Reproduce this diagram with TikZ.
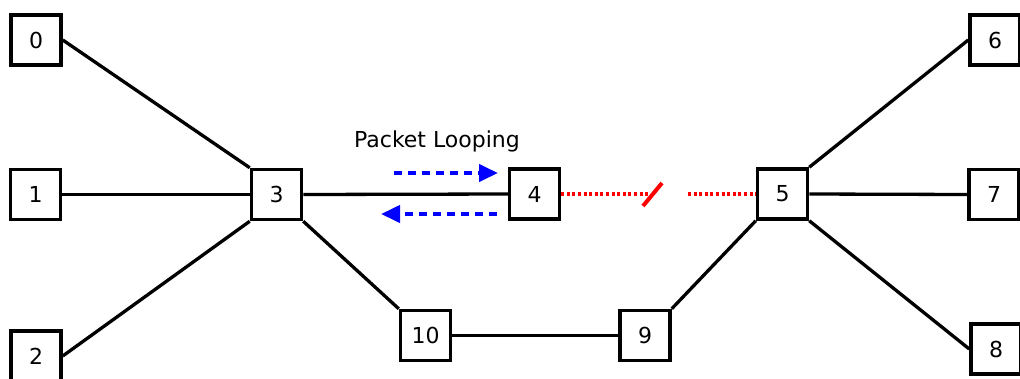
\documentclass[tikz,border=0pt]{standalone}
\usepackage{fontspec}
\setmainfont{DejaVu Sans}
\usetikzlibrary{arrows.meta}
\begin{document}
\begin{tikzpicture}[x=1pt,y=-1pt,
  router/.style={draw,line width=3.5pt,minimum size=50pt,inner sep=0pt,font=\fontsize{22}{26}\selectfont},
  link/.style={line width=3.3pt},
  flow/.style={blue,line width=4pt,dash pattern=on 8pt off 6pt,-{Triangle[length=19pt,width=17pt]}},
  broken/.style={red,line width=4pt,dash pattern=on 3pt off 2.6pt}]
\useasboundingbox (0,0) rectangle (1020,378);
\node[router] (n0) at (36,40) {0};
\node[router] (n1) at (35.5,194.5) {1};
\node[router] (n2) at (36,356) {2};
\node[router] (n3) at (276.5,194.5) {3};
\node[router] (n4) at (534.5,194) {4};
\node[router] (n5) at (782.5,194) {5};
\node[router] (n6) at (995,40) {6};
\node[router] (n7) at (994,194.5) {7};
\node[router] (n8) at (996,349) {8};
\node[router] (n10) at (425.5,335.5) {10};
\node[router] (n9) at (645,335.5) {9};
\node[font=\fontsize{22}{26}\selectfont] (lbl) at (437,141) {Packet Looping};
% physical links
\draw[link] (n0.east) -- (n3.north west);
\draw[link] (n1.east) -- (n3.west);
\draw[link] (n2.east) -- (n3.south west);
\draw[link] (n3.east) -- (n4.west);
\draw[link] (n3.south east) -- (n10.north west);
\draw[link] (n10.east) -- (n9.west);
\draw[link] (n9.north east) -- (n5.south west);
\draw[link] (n5.north east) -- (n6.west);
\draw[link] (n5.east) -- (n7.west);
\draw[link] (n5.south east) -- (n8.west);
% failed link between 4 and 5
\coordinate (brkL) at (650,194);
\coordinate (brkR) at (688,194);
\coordinate (cutA) at (643,206);
\coordinate (cutB) at (662,183);
\draw[broken] (n4.east) -- (brkL);
\draw[broken] (brkR) -- (n5.west);
\draw[red,line width=4pt] (cutA) -- (cutB);
% looping traffic
\coordinate (fa) at (394,173);
\coordinate (fb) at (498,173);
\coordinate (ra) at (497,214);
\coordinate (rb) at (381,214);
\draw[flow] (fa) -- (fb);
\draw[flow] (ra) -- (rb);
\end{tikzpicture}
\end{document}
